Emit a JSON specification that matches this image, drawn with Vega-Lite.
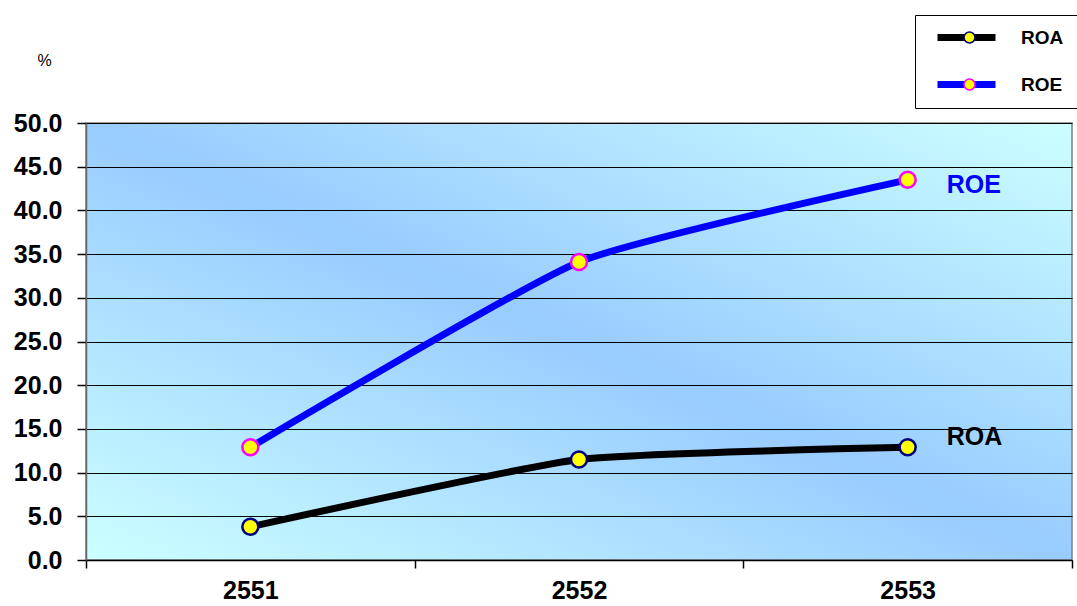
{
  "$schema": "https://vega.github.io/schema/vega-lite/v6.json",
  "width": 986,
  "height": 437,
  "autosize": {"type": "none"},
  "padding": {"left": 86, "top": 123, "right": 5, "bottom": 46},
  "background": "white",
  "config": {
    "font": "Liberation Sans",
    "view": {
      "stroke": "#808080",
      "strokeWidth": 1.5,
      "fill": {
        "gradient": "linear",
        "x1": 0, "y1": 1, "x2": 1, "y2": 0,
        "stops": [
          {"offset": 0, "color": "#ccffff"},
          {"offset": 0.5, "color": "#99ccff"},
          {"offset": 1, "color": "#ccffff"}
        ]
      }
    }
  },
  "data": {
    "values": [
      {"year": "2551", "series": "ROA", "value": 3.8},
      {"year": "2552", "series": "ROA", "value": 11.5},
      {"year": "2553", "series": "ROA", "value": 12.9},
      {"year": "2551", "series": "ROE", "value": 12.9},
      {"year": "2552", "series": "ROE", "value": 34.1},
      {"year": "2553", "series": "ROE", "value": 43.5}
    ]
  },
  "encoding": {
    "x": {
      "field": "year",
      "type": "ordinal",
      "scale": {"type": "band", "paddingInner": 0, "paddingOuter": 0},
      "axis": {
        "title": null,
        "labelAngle": 0,
        "labelFontSize": 25,
        "labelFontWeight": "bold",
        "labelColor": "black",
        "tickBand": "extent",
        "tickColor": "black",
        "tickSize": 8,
        "tickWidth": 1.5,
        "domainColor": "black",
        "domainWidth": 1.5,
        "labelPadding": 10,
        "grid": false
      }
    },
    "y": {
      "field": "value",
      "type": "quantitative",
      "scale": {"domain": [0, 50], "nice": false},
      "axis": {
        "values": [0, 5, 10, 15, 20, 25, 30, 35, 40, 45, 50],
        "format": ".1f",
        "title": "%",
        "titleAngle": 0,
        "titleX": -42,
        "titleY": -63,
        "titleFontSize": 16,
        "titleFontWeight": "normal",
        "titleAlign": "center",
        "titleBaseline": "middle",
        "titleColor": "black",
        "labelFontSize": 25,
        "labelFontWeight": "bold",
        "labelColor": "black",
        "labelPadding": 15,
        "grid": true,
        "gridColor": "black",
        "gridOpacity": 1,
        "gridWidth": 1.2,
        "tickColor": "black",
        "tickSize": 9,
        "tickWidth": 1.5,
        "domainColor": "#666666",
        "domainWidth": 1.5
      }
    }
  },
  "layer": [
    {
      "mark": {"type": "line", "strokeWidth": 7, "interpolate": "cardinal", "tension": 0.5, "strokeCap": "round"},
      "encoding": {
        "color": {
          "field": "series",
          "type": "nominal",
          "scale": {"domain": ["ROA", "ROE"], "range": ["black", "#0000ff"]},
          "legend": {
            "title": null,
            "orient": "none",
            "legendX": 848,
            "legendY": -118,
            "padding": 0,
            "symbolType": "stroke",
            "symbolSize": 3364,
            "symbolStrokeWidth": 7,
            "rowPadding": -13,
            "labelExpr": "''",
            "labelOpacity": 0
          }
        }
      }
    },
    {
      "mark": {"type": "point", "shape": "circle", "filled": true, "fill": "#ffff00", "size": 256, "strokeWidth": 2.5, "opacity": 1},
      "encoding": {
        "stroke": {
          "field": "series",
          "type": "nominal",
          "scale": {"domain": ["ROA", "ROE", "none"], "range": ["#000080", "#ff00ff", "#000000"]},
          "legend": {
            "title": null,
            "values": ["ROA", "ROE"],
            "orient": "none",
            "legendX": 829,
            "legendY": -108,
            "padding": 13,
            "strokeColor": "black",
            "symbolType": "circle",
            "symbolSize": 121,
            "symbolFillColor": "#ffff00",
            "symbolStrokeWidth": 1.5,
            "symbolOffset": 32,
            "labelOffset": 42,
            "labelFontSize": 19,
            "labelFontWeight": "bold",
            "labelColor": "black",
            "rowPadding": 27
          }
        }
      }
    },
    {
      "transform": [{"filter": "datum.series === 'ROE' && datum.year === '2553'"}],
      "mark": {"type": "text", "align": "left", "baseline": "middle", "dx": 39, "dy": 5, "fontSize": 25, "fontWeight": "bold", "color": "#0000ff"},
      "encoding": {"text": {"field": "series"}}
    },
    {
      "transform": [{"filter": "datum.series === 'ROA' && datum.year === '2553'"}],
      "mark": {"type": "text", "align": "left", "baseline": "middle", "dx": 39, "dy": -10, "fontSize": 25, "fontWeight": "bold", "color": "black"},
      "encoding": {"text": {"field": "series"}}
    }
  ]
}
